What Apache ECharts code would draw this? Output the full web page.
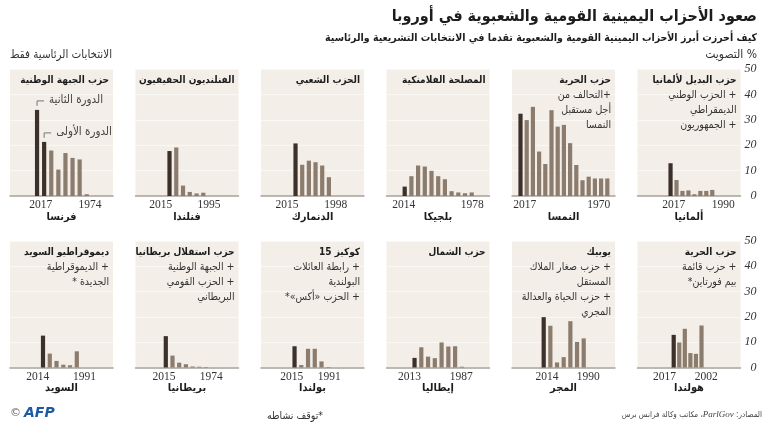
<!DOCTYPE html>
<html lang="ar">
<head>
<meta charset="utf-8">
<script src="https://cdn.jsdelivr.net/npm/echarts@6/dist/echarts.min.js"></script>
<style>
  html, body { margin: 0; padding: 0; background: #fff; }
  #chart { width: 770px; height: 427px; }
</style>
</head>
<body>
<div id="chart"></div>
<script>
// vote share (%) per election, newest first
const franceYears = ['2017', '2017', '2012', '2007', '2002', '1995', '1988', '1974']
const franceVotes = [33.9, 21.3, 17.9, 10.4, 16.9, 15.0, 14.4, 0.7]
const finlandYears = ['2015', '2011', '2007', '2003', '1999', '1995']
const finlandVotes = [17.7, 19.1, 4.1, 1.6, 1.0, 1.3]
const denmarkYears = ['2015', '2011', '2007', '2005', '2001', '1998']
const denmarkVotes = [20.7, 12.3, 13.9, 13.3, 12.0, 7.4]
const belgiumYears = ['2014', '2010', '2007', '2003', '1999', '1995', '1991', '1987', '1985', '1981', '1978']
const belgiumVotes = [3.7, 7.8, 12.0, 11.6, 9.9, 7.8, 6.6, 1.9, 1.4, 1.1, 1.4]
const austriaYears = ['2017', '2013', '2008', '2006', '2002', '1999', '1995', '1994', '1990', '1986', '1983', '1979', '1975', '1971', '1970']
const austriaVotes = [32.4, 29.9, 35.1, 17.5, 12.6, 33.8, 27.3, 28.0, 20.8, 12.2, 6.2, 7.6, 6.9, 6.9, 6.9]
const germanyYears = ['2017', '2013', '2009', '2005', '2002', '1998', '1994', '1990']
const germanyVotes = [12.9, 6.3, 2.0, 2.2, 0.7, 2.0, 2.0, 2.4]
const swedenYears = ['2014', '2010', '2006', '2002', '1998', '1991']
const swedenVotes = [12.6, 5.5, 2.6, 1.1, 0.9, 6.4]
const ukYears = ['2015', '2010', '2005', '2001', '1997', '1979', '1974']
const ukVotes = [12.4, 4.7, 1.9, 1.3, 0.4, 0.3, 0.2]
const polandYears = ['2015', '2011', '2007', '2005', '2001', '1991']
const polandVotes = [8.4, 1.0, 7.4, 7.4, 2.4, 0.2]
const italyYears = ['2013', '2008', '2006', '2001', '1996', '1994', '1992', '1987']
const italyVotes = [3.8, 8.0, 4.3, 3.7, 9.9, 8.3, 8.4, 0.3]
const hungaryYears = ['2014', '2010', '2006', '2002', '1998', '1994', '1990']
const hungaryVotes = [19.9, 16.5, 2.0, 4.1, 18.3, 10.1, 11.5]
const netherlandsYears = ['2017', '2012', '2010', '2006', '2003', '2002']
const netherlandsVotes = [12.9, 9.9, 15.3, 5.7, 5.4, 16.6]

const yTicks = [0, 10, 20, 30, 40, 50]

const countries = ['فرنسا', 'فنلندا', 'الدنمارك', 'بلجيكا', 'النمسا', 'ألمانيا',
  'السويد', 'بريطانيا', 'بولندا', 'إيطاليا', 'المجر', 'هولندا']
const parties = [
  ['حزب الجبهة الوطنية'],
  ['الفنلنديون الحقيقيون'],
  ['الحزب الشعبي'],
  ['المصلحة الفلامنكية'],
  ['حزب الحرية', '+التحالف من', 'أجل مستقبل', 'النمسا'],
  ['حزب البديل لألمانيا', '+ الحزب الوطني', 'الديمقراطي', '+ الجمهوريون'],
  ['ديموقراطيو السويد', '+ الديموقراطية', 'الجديدة *'],
  ['حزب استقلال بريطانيا', '+ الجبهة الوطنية', '+ الحزب القومي', 'البريطاني'],
  ['كوكيز 15', '+ رابطة العائلات', 'البولندية', '+ الحزب «أكس»*'],
  ['حزب الشمال'],
  ['يوبيك', '+ حزب صغار الملاك', 'المستقل', '+ حزب الحياة والعدالة', 'المجري'],
  ['حزب الحرية', '+ حزب قائمة', 'بيم فورتاين*'],
]
const years = [franceYears, finlandYears, denmarkYears, belgiumYears, austriaYears, germanyYears,
  swedenYears, ukYears, polandYears, italyYears, hungaryYears, netherlandsYears]
const votes = [franceVotes, finlandVotes, denmarkVotes, belgiumVotes, austriaVotes, germanyVotes,
  swedenVotes, ukVotes, polandVotes, italyVotes, hungaryVotes, netherlandsVotes]

// layout per panel: centre of the bar group, slot width, shift of first/last year label
const barCenter = [61.9, 186.4, 312.2, 438.2, 563.9, 691.4, 59.9, 185.9, 311.4, 438.2, 563.7, 687.6]
const slotW = [7.1, 6.76, 6.67, 6.7, 6.2, 5.96, 6.76, 6.7, 6.74, 6.76, 6.67, 5.56]
const labelShift = [[3.7, 3.2], [-8.8, 5.7], [-8.5, 6.9], [-0.9, 0.5], [4.2, -8.6], [3.2, 11],
  [-5.2, 7.7], [-1.8, 5.3], [-2.8, 1], [-5, -0.5], [3.3, 4.6], [-9.2, 4.8]]

const AR = '"DejaVu Sans Condensed", "DejaVu Sans", sans-serif'
const SERIF = '"Liberation Serif", "DejaVu Serif", serif'
const DARK = '#3b302a'
const LIGHT = '#8c7c6d'
const PANEL_BG = '#f3eee8'
const PANEL_W = 103
const rows = [{ top: 69, height: 127 }, { top: 241, height: 126.5 }]

const panelLeft = i => 10 + 125.5 * (i % 6)
// right-to-left embedding, the canvas would otherwise lay arabic lines out left-to-right
const rtl = s => '\u202B' + s + '\u202C'

const chart = echarts.init(document.getElementById('chart'), null, { renderer: 'canvas' })

const grid = [], xAxis = [], yAxis = [], series = []

// background panels
for (let i = 0; i < 12; i++) {
  const r = rows[Math.floor(i / 6)]
  const lastCol = i % 6 === 5
  grid.push({
    left: panelLeft(i), width: PANEL_W, top: r.top, height: r.height,
    show: true, backgroundColor: PANEL_BG, borderWidth: 0,
  })
  xAxis.push({
    type: 'value', gridIndex: i, min: 0, max: 1,
    axisLine: { show: true, onZero: false, lineStyle: { color: '#a7a19a', width: 1.5 } },
    axisTick: { show: false }, axisLabel: { show: false }, splitLine: { show: false },
  })
  yAxis.push({
    type: 'value', gridIndex: i, min: yTicks[0], max: yTicks[yTicks.length - 1], interval: 10,
    position: 'right',
    axisLine: { show: false }, axisTick: { show: false },
    axisLabel: {
      show: lastCol, align: 'right', margin: 16,
      fontFamily: SERIF, fontStyle: 'italic', fontSize: 12, color: '#333',
    },
    splitLine: { lineStyle: { color: '#faf8f5', width: 1 } },
  })
}

// bar grids
for (let i = 0; i < 12; i++) {
  const r = rows[Math.floor(i / 6)]
  const n = years[i].length
  const w = n * slotW[i]
  grid.push({ left: barCenter[i] - w / 2, width: w, top: r.top, height: r.height })
  const cats = years[i].map((y, k) => {
    let d = k === 0 ? labelShift[i][0] : (k === n - 1 ? labelShift[i][1] : 0)
    return { value: y, textStyle: { padding: d < 0 ? [0, -2 * d, 0, 0] : [0, 0, 0, 2 * d] } }
  })
  xAxis.push({
    type: 'category', gridIndex: 12 + i, data: cats,
    axisLine: { show: false }, axisTick: { show: false },
    axisLabel: {
      interval: k => k === 0 || k === n - 1,
      fontFamily: SERIF, fontSize: 11.5, color: '#333', margin: 3,
    },
  })
  yAxis.push({ type: 'value', gridIndex: 12 + i, min: 0, max: 50, show: false })
  const darkN = i === 0 ? 2 : 1
  series.push({
    type: 'bar', xAxisIndex: 12 + i, yAxisIndex: 12 + i, barWidth: 4.2,
    silent: true, animation: false,
    data: votes[i].map((v, k) => ({ value: v, itemStyle: { color: k < darkN ? DARK : LIGHT } })),
  })
}

chart.setOption({ animation: false, grid, xAxis, yAxis, series })

// text
const graphic = []
const text = (x, y, t, style) => graphic.push({
  type: 'text', x, y, silent: true,
  style: Object.assign({ text: rtl(t), fill: '#1c1c1c', fontFamily: AR, align: 'right', verticalAlign: 'middle' }, style),
})

text(757, 17, 'صعود الأحزاب اليمينية القومية والشعبوية في أوروبا', { fontSize: 16, fontWeight: 'bold' })
text(757, 38, 'كيف أحرزت أبرز الأحزاب اليمينية القومية والشعبوية تقدما في الانتخابات التشريعية والرئاسية',
  { fontSize: 10.5, fontWeight: 'bold' })
text(757, 55, '% التصويت', { fontSize: 12, fill: '#333' })
text(112, 55, 'الانتخابات الرئاسية فقط', { fontSize: 11.5, fill: '#333' })

for (let i = 0; i < 12; i++) {
  const r = rows[Math.floor(i / 6)]
  const lines = parties[i].map((l, k) => (k === 0 ? '{b|' : '{r|') + rtl(l) + '}').join('\n')
  graphic.push({
    type: 'text', x: panelLeft(i) + PANEL_W - 4, y: r.top + 4, silent: true,
    style: {
      text: lines, align: 'right', verticalAlign: 'top',
      rich: {
        b: { fontFamily: AR, fontSize: 10, fontWeight: 'bold', fill: '#1c1c1c', lineHeight: 15 },
        r: { fontFamily: AR, fontSize: 10.5, fill: '#333', lineHeight: 15 },
      },
    },
  })
  text(panelLeft(i) + PANEL_W / 2, r.top + r.height + 21, countries[i],
    { fontSize: 11, fontWeight: 'bold', align: 'center' })
}

// round markers on the French bars
const roundNames = ['الدورة الثانية', 'الدورة الأولى']
roundNames.forEach((name, k) => {
  const p = chart.convertToPixel({ seriesIndex: 0 }, [k, franceVotes[k]])
  graphic.push({
    type: 'polyline', silent: true,
    shape: { points: [[p[0], p[1] - 4], [p[0], p[1] - 9], [p[0] + 7, p[1] - 9]] },
    style: { stroke: '#777', lineWidth: 1, fill: null },
  })
  text(p[0] + 12, p[1] - 10, name, { fontSize: 11.5, fill: '#444', align: 'left' })
})

text(323, 416, '*توقف نشاطه', { fontSize: 10.5, fill: '#333' })
// tokens are drawn left to right, so they are listed in visual order
graphic.push({
  type: 'text', x: 762, y: 415, silent: true,
  style: {
    text: '{r|' + rtl('مكاتب وكالة فرانس برس') + '}{r| ،}{i|ParlGov}{r| :}{r|' + rtl('المصادر') + '}',
    align: 'right', verticalAlign: 'middle',
    rich: {
      r: { fontFamily: AR, fontSize: 8, fill: '#444' },
      i: { fontFamily: SERIF, fontStyle: 'italic', fontSize: 9, fill: '#444' },
    },
  },
})
graphic.push({
  type: 'text', x: 10, y: 413, silent: true,
  style: {
    text: '{c|©}{a|AFP}', align: 'left', verticalAlign: 'middle',
    rich: {
      c: { fontFamily: 'DejaVu Sans', fontSize: 11, fill: '#666', padding: [0, 3, 0, 0] },
      a: { fontFamily: 'DejaVu Sans', fontSize: 14, fontWeight: 'bold', fontStyle: 'italic', fill: '#1d5aa6' },
    },
  },
})

chart.setOption({ graphic })
</script>
</body>
</html>
